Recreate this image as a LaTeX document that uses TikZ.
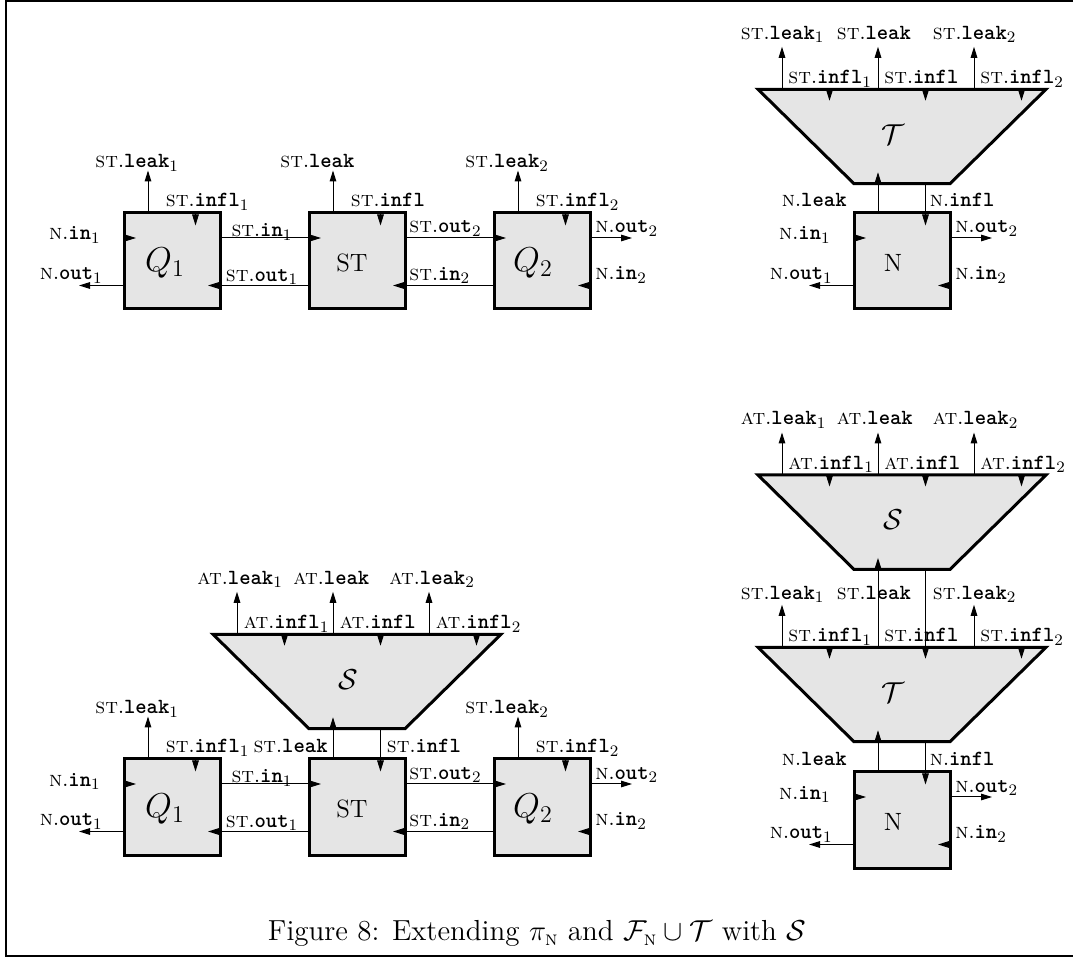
\documentclass[tikz,border=0pt]{standalone}
\usepackage{amsmath}
\usetikzlibrary{arrows.meta}
\definecolor{boxgray}{gray}{0.9}
\newcommand{\pfST}{\textsc{st}.}
\newcommand{\pfN}{\textsc{n}.}
\newcommand{\pfAT}{\textsc{at}.}
\newcommand{\ttb}[1]{{\ttfamily\bfseries #1}}
\newcommand{\tts}[2]{\ttb{#1}$_{#2}$}
\tikzset{
 comp/.style={draw, line width=1.5pt, fill=boxgray, minimum width=48pt, minimum height=48pt, inner sep=0pt, outer sep=0pt},
 boxtext/.style={inner sep=0pt, font=\fontsize{12.5}{14}\selectfont},
 trapst/.style={draw, line width=1.5pt, fill=boxgray, line join=miter},
 conn/.style={line width=0.5pt, -{Triangle[length=5.5pt,width=3.3pt]}},
 lbl/.style={inner sep=0pt, font=\fontsize{10.8}{12}\selectfont},
 big/.style={font=\fontsize{14}{16}\selectfont, inner sep=0pt},
}
% box: name, x0, y0, text, text x-offset
\newcommand{\mkbox}[5]{%
  \node[comp] (#1) at ({#2+48},{#3+48}) {};
  \node[boxtext] (#1-t) at ({#2+#5},{#3+50}) {#4};
  \coordinate (#1-lk) at ({#2+24},{#3});
  \coordinate (#1-lkt) at ({#2+24},{#3-42.5});
  \coordinate (#1-if) at ({#2+71.5},{#3});
  \coordinate (#1-ift) at ({#2+71.5},{#3+12.5});
  \coordinate (#1-inl) at ({#2},{#3+25});
  \coordinate (#1-inlt) at ({#2+12},{#3+25});
  \coordinate (#1-outl) at ({#2},{#3+72.5});
  \coordinate (#1-outlt) at ({#2-45},{#3+72.5});
  \coordinate (#1-outr) at ({#2+96},{#3+25});
  \coordinate (#1-outrt) at ({#2+138},{#3+25});
  \coordinate (#1-inr) at ({#2+96},{#3+72.5});
  \coordinate (#1-inrt) at ({#2+84},{#3+72.5});
}
% trapezoid: name, X, Y, text
\newcommand{\mktrap}[4]{%
  \draw[trapst] (#2,#3) -- ({#2+288},#3) -- ({#2+192},{#3+94.4}) -- ({#2+96},{#3+94.4}) -- cycle;
  \node[big] (#1) at ({#2+135},{#3+45}) {#4};
  \coordinate (#1-lk1) at ({#2+24},{#3});
  \coordinate (#1-lk2) at ({#2+120},{#3});
  \coordinate (#1-lk3) at ({#2+216},{#3});
  \coordinate (#1-lkt1) at ({#2+24},{#3-42.5});
  \coordinate (#1-lkt2) at ({#2+120},{#3-42.5});
  \coordinate (#1-lkt3) at ({#2+216},{#3-42.5});
  \coordinate (#1-if1) at ({#2+71.5},{#3});
  \coordinate (#1-if2) at ({#2+167.5},{#3});
  \coordinate (#1-if3) at ({#2+263.5},{#3});
  \coordinate (#1-ift1) at ({#2+71.5},{#3+11.5});
  \coordinate (#1-ift2) at ({#2+167.5},{#3+11.5});
  \coordinate (#1-ift3) at ({#2+263.5},{#3+11.5});
  \coordinate (#1-bl) at ({#2+120},{#3+94.4});
  \coordinate (#1-blt) at ({#2+120},{#3+94.4-11.5});
  \coordinate (#1-br) at ({#2+167.5},{#3+94.4});
}
\newcommand{\bigq}[1]{\fontsize{16.5}{18}\selectfont$Q_{#1}$}
\begin{document}
\begin{tikzpicture}[x=0.5pt,y=-0.5pt]
\useasboundingbox (0,0) rectangle (1073,957);
\draw[line width=1pt] (1073,1.5) -- (6,1.5) -- (6,955.5) -- (1073,955.5);

%%%%%%%% top-left
\mkbox{Qa}{124}{213}{\bigq{1}}{41}
\mkbox{STa}{309}{213}{ST}{43}
\mkbox{Qb}{494}{213}{\bigq{2}}{39}
\draw[conn] (Qa-lk) -- (Qa-lkt);
\draw[conn] (Qa-if) -- (Qa-ift);
\draw[conn] (Qa-inl) -- (Qa-inlt);
\draw[conn] (Qa-outl) -- (Qa-outlt);
\draw[conn] (Qa-outr) -- (STa-inlt);
\draw[conn] (STa-outl) -- (Qa-inrt);
\draw[conn] (STa-lk) -- (STa-lkt);
\draw[conn] (STa-if) -- (STa-ift);
\draw[conn] (STa-outr) -- (Qb-inlt);
\draw[conn] (Qb-outl) -- (STa-inrt);
\draw[conn] (Qb-lk) -- (Qb-lkt);
\draw[conn] (Qb-if) -- (Qb-ift);
\draw[conn] (Qb-outr) -- (Qb-outrt);
\draw[conn] (Qb-inr) -- (Qb-inrt);
\node[lbl,anchor=base west] (a1) at (95,168) {\pfST\tts{leak}{1}};
\node[lbl,anchor=base west] (a2) at (280,168) {\pfST\ttb{leak}};
\node[lbl,anchor=base west] (a3) at (465,168) {\pfST\tts{leak}{2}};
\node[lbl,anchor=base west] (a4) at (165.5,207) {\pfST\tts{infl}{1}};
\node[lbl,anchor=base west] (a5) at (350.5,207) {\pfST\ttb{infl}};
\node[lbl,anchor=base west] (a6) at (535.5,207) {\pfST\tts{infl}{2}};
\node[lbl,anchor=base east] (a7) at (101,240) {\pfN\tts{in}{1}};
\node[lbl,anchor=base east] (a8) at (103,280) {\pfN\tts{out}{1}};
\node[lbl,anchor=base] (a9) at (262,237) {\pfST\tts{in}{1}};
\node[lbl,anchor=base] (a10) at (262,281.5) {\pfST\tts{out}{1}};
\node[lbl,anchor=base west] (a11) at (409,233) {\pfST\tts{out}{2}};
\node[lbl,anchor=base west] (a12) at (409,280.5) {\pfST\tts{in}{2}};
\node[lbl,anchor=base west] (a13) at (595,233) {\pfN\tts{out}{2}};
\node[lbl,anchor=base west] (a14) at (595,280) {\pfN\tts{in}{2}};

%%%%%%%% top-right
\mktrap{Ta}{758}{89.3}{$\mathcal{T}$}
\mkbox{Na}{854}{213}{N}{39}
\foreach \i in {1,2,3} {\draw[conn] (Ta-lk\i) -- (Ta-lkt\i); \draw[conn] (Ta-if\i) -- (Ta-ift\i);}
\draw[conn] (Na-lk) -- (Ta-blt);
\draw[conn] (Ta-br) -- (Na-ift);
\draw[conn] (Na-inl) -- (Na-inlt);
\draw[conn] (Na-outl) -- (Na-outlt);
\draw[conn] (Na-outr) -- (Na-outrt);
\draw[conn] (Na-inr) -- (Na-inrt);
\node[lbl,anchor=base west] (b1) at (740.5,39.3) {\pfST\tts{leak}{1}};
\node[lbl,anchor=base west] (b2) at (836.5,39.3) {\pfST\ttb{leak}};
\node[lbl,anchor=base west] (b3) at (932.5,39.3) {\pfST\tts{leak}{2}};
\node[lbl,anchor=base west] (b4) at (788,84) {\pfST\tts{infl}{1}};
\node[lbl,anchor=base west] (b5) at (884,84) {\pfST\ttb{infl}};
\node[lbl,anchor=base west] (b6) at (980,84) {\pfST\tts{infl}{2}};
\node[lbl,anchor=base east] (b7) at (847,206.7) {\pfN\ttb{leak}};
\node[lbl,anchor=base west] (b8) at (929.5,206.7) {\pfN\ttb{infl}};
\node[lbl,anchor=base east] (b9) at (831,240) {\pfN\tts{in}{1}};
\node[lbl,anchor=base east] (b10) at (833,280) {\pfN\tts{out}{1}};
\node[lbl,anchor=base west] (b11) at (955,233) {\pfN\tts{out}{2}};
\node[lbl,anchor=base west] (b12) at (955,280) {\pfN\tts{in}{2}};

%%%%%%%% bottom-left
\mktrap{Sa}{213}{634.3}{$\mathcal{S}$}
\mkbox{Qc}{124}{759}{\bigq{1}}{41}
\mkbox{STc}{309}{759}{ST}{43}
\mkbox{Qd}{494}{759}{\bigq{2}}{39}
\foreach \i in {1,2,3} {\draw[conn] (Sa-lk\i) -- (Sa-lkt\i); \draw[conn] (Sa-if\i) -- (Sa-ift\i);}
\draw[conn] (STc-lk) -- (Sa-blt);
\draw[conn] (Sa-br) -- (STc-ift);
\draw[conn] (Qc-lk) -- (Qc-lkt);
\draw[conn] (Qc-if) -- (Qc-ift);
\draw[conn] (Qc-inl) -- (Qc-inlt);
\draw[conn] (Qc-outl) -- (Qc-outlt);
\draw[conn] (Qc-outr) -- (STc-inlt);
\draw[conn] (STc-outl) -- (Qc-inrt);
\draw[conn] (STc-outr) -- (Qd-inlt);
\draw[conn] (Qd-outl) -- (STc-inrt);
\draw[conn] (Qd-lk) -- (Qd-lkt);
\draw[conn] (Qd-if) -- (Qd-ift);
\draw[conn] (Qd-outr) -- (Qd-outrt);
\draw[conn] (Qd-inr) -- (Qd-inrt);
\node[lbl,anchor=base west] (c1) at (197,584.3) {\pfAT\tts{leak}{1}};
\node[lbl,anchor=base west] (c2) at (293,584.3) {\pfAT\ttb{leak}};
\node[lbl,anchor=base west] (c3) at (389,584.3) {\pfAT\tts{leak}{2}};
\node[lbl,anchor=base west] (c4) at (243.5,628.8) {\pfAT\tts{infl}{1}};
\node[lbl,anchor=base west] (c5) at (339.5,628.8) {\pfAT\ttb{infl}};
\node[lbl,anchor=base west] (c6) at (435.5,628.8) {\pfAT\tts{infl}{2}};
\node[lbl,anchor=base west] (c7) at (95,714) {\pfST\tts{leak}{1}};
\node[lbl,anchor=base west] (c8) at (465,714) {\pfST\tts{leak}{2}};
\node[lbl,anchor=base west] (c9) at (165.5,753) {\pfST\tts{infl}{1}};
\node[lbl,anchor=base east] (c10) at (328,753) {\pfST\ttb{leak}};
\node[lbl,anchor=base west] (c11) at (386.5,753) {\pfST\ttb{infl}};
\node[lbl,anchor=base west] (c12) at (535.5,753) {\pfST\tts{infl}{2}};
\node[lbl,anchor=base east] (c13) at (101,786) {\pfN\tts{in}{1}};
\node[lbl,anchor=base east] (c14) at (103,826) {\pfN\tts{out}{1}};
\node[lbl,anchor=base] (c15) at (262,783) {\pfST\tts{in}{1}};
\node[lbl,anchor=base] (c16) at (262,827.5) {\pfST\tts{out}{1}};
\node[lbl,anchor=base west] (c17) at (409,779) {\pfST\tts{out}{2}};
\node[lbl,anchor=base west] (c18) at (409,826.5) {\pfST\tts{in}{2}};
\node[lbl,anchor=base west] (c19) at (595,779) {\pfN\tts{out}{2}};
\node[lbl,anchor=base west] (c20) at (595,826) {\pfN\tts{in}{2}};

%%%%%%%% bottom-right
\mktrap{Sb}{758}{475}{$\mathcal{S}$}
\mktrap{Tb}{758}{647.3}{$\mathcal{T}$}
\mkbox{Nb}{854}{772}{N}{39}
\foreach \i in {1,2,3} {\draw[conn] (Sb-lk\i) -- (Sb-lkt\i); \draw[conn] (Sb-if\i) -- (Sb-ift\i);}
\draw[conn] (Tb-lk1) -- (Tb-lkt1);
\draw[conn] (Tb-lk3) -- (Tb-lkt3);
\draw[conn] (Tb-if1) -- (Tb-ift1);
\draw[conn] (Tb-if3) -- (Tb-ift3);
\draw[conn] (Tb-lk2) -- (Sb-blt);
\draw[conn] (Sb-br) -- (Tb-ift2);
\draw[conn] (Nb-lk) -- (Tb-blt);
\draw[conn] (Tb-br) -- (Nb-ift);
\draw[conn] (Nb-inl) -- (Nb-inlt);
\draw[conn] (Nb-outl) -- (Nb-outlt);
\draw[conn] (Nb-outr) -- (Nb-outrt);
\draw[conn] (Nb-inr) -- (Nb-inrt);
\node[lbl,anchor=base west] (d1) at (740.5,425) {\pfAT\tts{leak}{1}};
\node[lbl,anchor=base west] (d2) at (836.5,425) {\pfAT\ttb{leak}};
\node[lbl,anchor=base west] (d3) at (932.5,425) {\pfAT\tts{leak}{2}};
\node[lbl,anchor=base west] (d4) at (788,469.5) {\pfAT\tts{infl}{1}};
\node[lbl,anchor=base west] (d5) at (884,469.5) {\pfAT\ttb{infl}};
\node[lbl,anchor=base west] (d6) at (980,469.5) {\pfAT\tts{infl}{2}};
\node[lbl,anchor=base west] (d7) at (740.5,599.3) {\pfST\tts{leak}{1}};
\node[lbl,anchor=base west] (d8) at (836.5,599.3) {\pfST\ttb{leak}};
\node[lbl,anchor=base west] (d9) at (932.5,599.3) {\pfST\tts{leak}{2}};
\node[lbl,anchor=base west] (d10) at (788,641.8) {\pfST\tts{infl}{1}};
\node[lbl,anchor=base west] (d11) at (884,641.8) {\pfST\ttb{infl}};
\node[lbl,anchor=base west] (d12) at (980,641.8) {\pfST\tts{infl}{2}};
\node[lbl,anchor=base east] (d13) at (847,765.7) {\pfN\ttb{leak}};
\node[lbl,anchor=base west] (d14) at (929.5,765.7) {\pfN\ttb{infl}};
\node[lbl,anchor=base east] (d15) at (831,799) {\pfN\tts{in}{1}};
\node[lbl,anchor=base east] (d16) at (833,839) {\pfN\tts{out}{1}};
\node[lbl,anchor=base west] (d17) at (955,792) {\pfN\tts{out}{2}};
\node[lbl,anchor=base west] (d18) at (955,839) {\pfN\tts{in}{2}};

%%%%%%%% caption
\node[anchor=base, inner sep=0pt, font=\fontsize{14.5}{17}\selectfont] (cap) at (537,941)
  {Figure 8: Extending $\pi_{\text{\textsc{n}}}$ and $\mathcal{F}_{\text{\textsc{n}}}\cup\mathcal{T}$ with $\mathcal{S}$};
\end{tikzpicture}
\end{document}
